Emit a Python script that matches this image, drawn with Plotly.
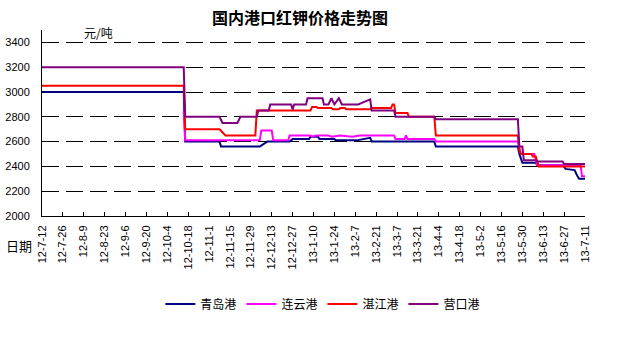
import plotly.graph_objects as go

title_text = "国内港口红钾价格走势图"
unit_text = "元/吨"
xaxis_label = "日期"

series_names = ["青岛港", "连云港", "湛江港", "营口港"]
series_colors = ["#000080", "#FF00FF", "#FF0000", "#800080"]

tick_labels = ["12-7-12", "12-7-26", "12-8-9", "12-8-23", "12-9-6", "12-9-20", "12-10-4",
               "12-10-18", "12-11-1", "12-11-15", "12-11-29", "12-12-13", "12-12-27",
               "13-1-10", "13-1-24", "13-2-7", "13-2-21", "13-3-7", "13-3-21", "13-4-4",
               "13-4-18", "13-5-2", "13-5-16", "13-5-30", "13-6-13", "13-6-27", "13-7-11"]
y_ticks = [2000, 2200, 2400, 2600, 2800, 3000, 3200, 3400]

qingdao_dates = ["2012-07-12", "2012-10-15", "2012-10-16", "2012-11-08", "2012-11-09", "2012-12-05",
                 "2012-12-10", "2012-12-25", "2012-12-27", "2013-01-07", "2013-01-08", "2013-01-13",
                 "2013-01-14", "2013-01-24", "2013-01-25", "2013-02-08", "2013-02-17", "2013-02-18",
                 "2013-04-01", "2013-04-02", "2013-05-27", "2013-05-28", "2013-05-30", "2013-06-08",
                 "2013-06-09", "2013-06-26", "2013-06-28", "2013-07-04", "2013-07-06", "2013-07-07",
                 "2013-07-11"]
qingdao_values = [3000, 3000, 2600, 2600, 2560, 2560,
                  2600, 2600, 2620, 2620, 2640, 2640,
                  2620, 2620, 2610, 2610, 2630, 2600,
                  2600, 2560, 2560, 2500, 2430, 2430,
                  2410, 2410, 2380, 2370, 2320, 2300,
                  2300]

lianyun_dates = ["2012-10-15", "2012-10-16", "2012-12-05", "2012-12-06", "2012-12-13", "2012-12-14",
                 "2012-12-24", "2012-12-25", "2013-01-08", "2013-01-09", "2013-01-12", "2013-01-20",
                 "2013-01-22", "2013-01-28", "2013-02-05", "2013-02-10", "2013-03-05", "2013-03-06",
                 "2013-03-12", "2013-03-13", "2013-03-14", "2013-04-01", "2013-04-02", "2013-05-27",
                 "2013-05-29", "2013-06-07", "2013-06-09", "2013-07-08", "2013-07-09", "2013-07-11"]
lianyun_values = [2850, 2610, 2610, 2690, 2690, 2610,
                  2610, 2650, 2650, 2640, 2650, 2650,
                  2640, 2650, 2640, 2650, 2650, 2620,
                  2620, 2650, 2620, 2620, 2600, 2600,
                  2500, 2500, 2410, 2410, 2320, 2320]

zhanjiang_dates = ["2012-07-12", "2012-10-15", "2012-10-16", "2012-11-08", "2012-11-12", "2012-12-02",
                   "2012-12-03", "2013-01-08", "2013-01-09", "2013-01-12", "2013-01-13", "2013-01-22",
                   "2013-01-23", "2013-01-27", "2013-01-28", "2013-01-31", "2013-02-01", "2013-02-17",
                   "2013-02-18", "2013-03-03", "2013-03-04", "2013-03-05", "2013-03-06", "2013-03-14",
                   "2013-03-15", "2013-04-01", "2013-04-02", "2013-05-27", "2013-05-28", "2013-05-29",
                   "2013-06-05", "2013-06-06", "2013-06-08", "2013-06-10", "2013-07-11"]
zhanjiang_values = [3050, 3050, 2700, 2700, 2650, 2650,
                    2850, 2850, 2880, 2880, 2870, 2870,
                    2860, 2860, 2870, 2870, 2860, 2860,
                    2870, 2870, 2900, 2900, 2830, 2830,
                    2800, 2800, 2650, 2650, 2530, 2500,
                    2500, 2480, 2480, 2400, 2400]

yingkou_dates = ["2012-07-12", "2012-10-15", "2012-10-16", "2012-11-08", "2012-11-10", "2012-11-20",
                 "2012-11-22", "2012-12-03", "2012-12-04", "2012-12-11", "2012-12-12", "2012-12-26",
                 "2012-12-27", "2012-12-28", "2013-01-05", "2013-01-06", "2013-01-16", "2013-01-17",
                 "2013-01-20", "2013-01-22", "2013-01-24", "2013-01-27", "2013-01-29", "2013-02-09",
                 "2013-02-13", "2013-02-17", "2013-02-18", "2013-03-05", "2013-03-06", "2013-04-01",
                 "2013-04-02", "2013-05-27", "2013-05-28", "2013-05-30", "2013-05-31", "2013-06-08",
                 "2013-06-09", "2013-06-26", "2013-06-27", "2013-07-11"]
yingkou_values = [3200, 3200, 2800, 2800, 2750, 2750,
                  2800, 2800, 2850, 2850, 2900, 2900,
                  2860, 2900, 2900, 2950, 2950, 2900,
                  2900, 2950, 2900, 2950, 2900, 2900,
                  2920, 2940, 2850, 2850, 2800, 2800,
                  2780, 2780, 2560, 2560, 2450, 2450,
                  2440, 2440, 2420, 2420]

series_dates = [qingdao_dates, lianyun_dates, zhanjiang_dates, yingkou_dates]
series_values = [qingdao_values, lianyun_values, zhanjiang_values, yingkou_values]


def label_to_date(lbl):
    yy, m, d = lbl.split("-")
    return "20%s-%02d-%02d" % (yy, int(m), int(d))


tick_dates = [label_to_date(t) for t in tick_labels]

cjk = "Noto Sans CJK SC"
latin = "Liberation Sans"

fig = go.Figure()
for name, color, xs, ys in zip(series_names, series_colors, series_dates, series_values):
    fig.add_trace(go.Scatter(x=xs, y=ys, mode="lines", name=name,
                             line=dict(color=color, width=2)))

fig.update_layout(
    width=625, height=345,
    margin=dict(l=42, r=40, t=30, b=129, pad=0, autoexpand=False),
    paper_bgcolor="white", plot_bgcolor="white",
    title=dict(text=title_text, x=0.48, xanchor="center", y=1 - 18.5 / 345, yanchor="middle",
               font=dict(family=cjk, size=16, color="black", weight="bold")),
    showlegend=True,
    legend=dict(orientation="h", x=0.218, xanchor="left", y=-0.473, yanchor="middle",
                font=dict(family=cjk, size=12, color="black"), bgcolor="rgba(0,0,0,0)",
                itemwidth=30, tracegroupgap=0),
    xaxis=dict(type="date", range=[tick_dates[0], tick_dates[-1]], automargin=False,
               tickmode="array", tickvals=tick_dates, ticktext=tick_labels, tickangle=-90,
               ticks="inside", ticklen=4, tickcolor="black", tickwidth=1,
               showline=True, linecolor="black", linewidth=1, showgrid=False, zeroline=False,
               tickfont=dict(family=latin, size=11, color="black"), ticklabelstandoff=4),
    yaxis=dict(range=[2000, 3500], tickmode="array", tickvals=y_ticks, automargin=False,
               ticktext=[str(v) for v in y_ticks], ticks="",
               showline=True, linecolor="black", linewidth=1,
               showgrid=True, gridcolor="black", gridwidth=1, griddash="17px,7px",
               zeroline=False, tickfont=dict(family=latin, size=11, color="black"),
               ticklabelstandoff=9),
    annotations=[
        dict(text=unit_text, xref="paper", yref="paper", x=(98 - 42) / 543, y=(216 - 32.5) / 186,
             xanchor="center", yanchor="middle", showarrow=False,
             font=dict(family=cjk, size=12, color="black")),
        dict(text=xaxis_label, xref="paper", yref="paper", x=(19 - 42) / 543, y=(216 - 245) / 186,
             xanchor="center", yanchor="middle", showarrow=False,
             font=dict(family=cjk, size=13, color="black")),
    ],
)

fig.write_html("out.html")
